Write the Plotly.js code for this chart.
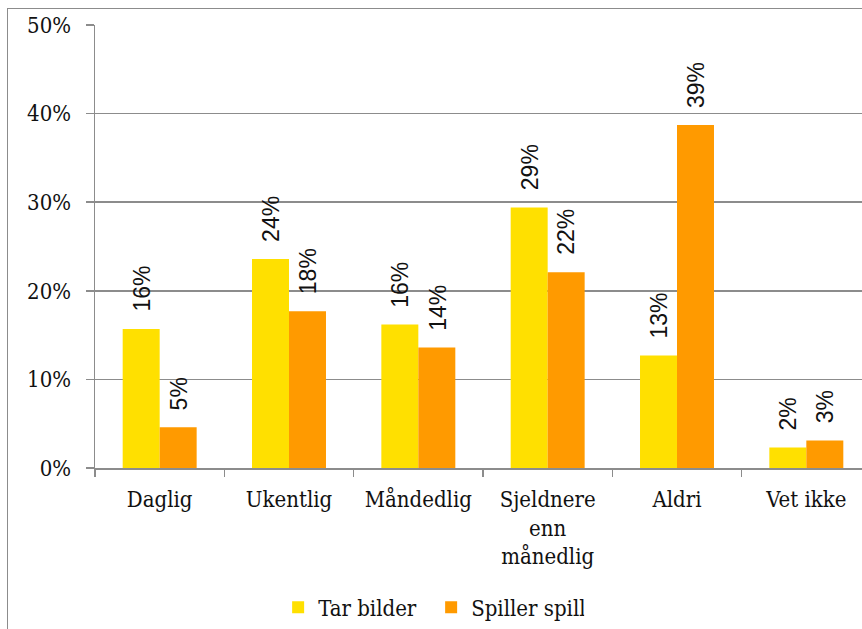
<!DOCTYPE html>
<html>
<head>
<meta charset="utf-8">
<script src="https://cdn.plot.ly/plotly-3.0.1.min.js"></script>
<style>
  html, body { margin: 0; padding: 0; overflow: hidden; background: #fff; }
  #frame { position: absolute; left: 7px; top: 8px; border: 1px solid #8c8c8c; width: 900px; height: 660px; }
  #chart { width: 900px; height: 660px; }
</style>
</head>
<body>
<div id="frame"><div id="chart"></div></div>
<script>
var categories = ["Daglig", "Ukentlig", "Måndedlig", "Sjeldnere<br>enn<br>månedlig", "Aldri", "Vet ikke"];
var tarBilder = [15.7, 23.6, 16.2, 29.4, 12.7, 2.3];
var spillerSpill = [4.6, 17.7, 13.6, 22.1, 38.7, 3.1];
var yTicks = [0, 10, 20, 30, 40, 50];

var serif = "DejaVu Serif Condensed, DejaVu Serif, serif";

var trace1 = {
    x: categories,
    y: tarBilder,
    name: "Tar bilder",
    type: "bar",
    marker: {color: "#FFE000"},
    hoverinfo: "none"
};
var trace2 = {
    x: categories,
    y: spillerSpill,
    name: "Spiller spill",
    type: "bar",
    marker: {color: "#FF9A00"},
    hoverinfo: "none"
};

// value labels, rotated, above each bar
var labels = [];
function addLabels(vals, shift) {
    vals.forEach(function (v, i) {
        labels.push({
            x: categories[i], y: v, xref: "x", yref: "y",
            text: Math.round(v) + "%",
            showarrow: false, textangle: -90,
            xanchor: "center", yanchor: "bottom",
            xshift: shift, yshift: 15,
            font: {family: "Liberation Sans, Arial, sans-serif", size: 23, color: "#111"}
        });
    });
}
addLabels(tarBilder, -18);
addLabels(spillerSpill, 19);

var layout = {
    width: 900,
    height: 660,
    margin: {l: 87, r: 36.5, t: 16, b: 200.7},
    paper_bgcolor: "#fff",
    plot_bgcolor: "#fff",
    font: {family: serif, size: 22, color: "#111"},
    bargap: 0.428,
    bargroupgap: 0,
    showlegend: true,
    legend: {
        orientation: "h",
        x: 0.236, xanchor: "left",
        y: -0.315, yanchor: "middle",
        font: {family: serif, size: 22, color: "#111"},
        itemwidth: 30,
        entrywidth: 108,
        entrywidthmode: "pixels"
    },
    xaxis: {
        type: "category",
        tickson: "boundaries",
        ticks: "outside",
        ticklen: 7,
        tickcolor: "#8c8c8c",
        tickwidth: 1.5,
        tickangle: 0,
        ticklabelstandoff: 11,
        showline: true,
        linecolor: "#8c8c8c",
        linewidth: 1.5,
        showgrid: false,
        fixedrange: true
    },
    yaxis: {
        range: [0, 50],
        tickvals: yTicks,
        ticktext: yTicks.map(function (t) { return t + "%"; }),
        ticks: "outside",
        ticklen: 8,
        tickcolor: "#8c8c8c",
        tickwidth: 1.5,
        ticklabelstandoff: 10,
        showline: true,
        linecolor: "#8c8c8c",
        linewidth: 1.5,
        showgrid: true,
        gridcolor: "#8c8c8c",
        gridwidth: 1.5,
        zeroline: false,
        fixedrange: true
    },
    annotations: labels
};

Plotly.newPlot("chart", [trace1, trace2], layout, {displayModeBar: false, staticPlot: true});
</script>
</body>
</html>
